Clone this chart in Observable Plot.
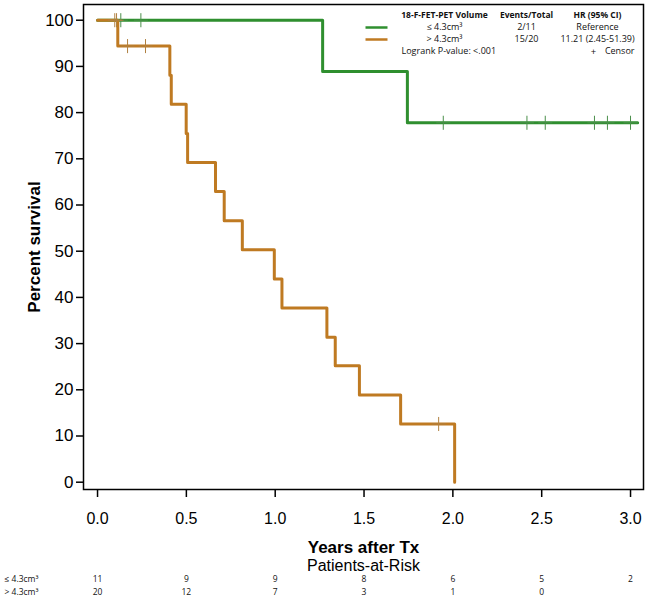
<!DOCTYPE html>
<html><head><meta charset="utf-8">
<script src="https://cdn.jsdelivr.net/npm/d3@7"></script>
<script src="https://cdn.jsdelivr.net/npm/@observablehq/plot@0.6"></script>
<style>
body{margin:0;background:#fff;}
#chart{width:649px;}
#chart svg{display:block;}
</style></head><body><div id="chart"></div>
<script>
// ---- data ----
const groups = ["≤ 4.3cm³", "> 4.3cm³"];
const groupColors = ["#2f8f2f", "#bf7a22"];
const lowTimes = [0, 1.267, 1.744, 3.04];
const lowSurv = [100, 88.9, 77.8, 77.8];
const highTimes = [0, 0.114, 0.407, 0.415, 0.499, 0.507, 0.664, 0.713, 0.815, 0.995, 1.038, 1.291, 1.338, 1.474, 1.706, 2.01];
const highSurv = [100, 94.4, 88.1, 81.8, 75.5, 69.2, 62.9, 56.6, 50.3, 44.0, 37.7, 31.4, 25.2, 18.9, 12.6, 0];
const lowCensor = [0.131, 0.244, 1.946, 2.417, 2.52, 2.797, 2.87, 3.0];
const highCensor = [0.097, 0.107, 0.169, 0.27, 1.92];
const riskTimes = [0, 0.5, 1.0, 1.5, 2.0, 2.5, 3.0];
const lowRisk = [11, 9, 9, 8, 6, 5, 2];
const highRisk = [20, 12, 7, 3, 1, 0];
const yTicks = [0, 10, 20, 30, 40, 50, 60, 70, 80, 90, 100];
const xTicks = [0, 0.5, 1.0, 1.5, 2.0, 2.5, 3.0];
const legendHeader = ["18-F-FET-PET Volume", "Events/Total", "HR (95% CI)"];
const legendEvents = ["2/11", "15/20"];
const legendHR = ["Reference", "11.21 (2.45-51.39)"];
const logrankText = "Logrank P-value: <.001";
const censorText = "Censor";

// ---- derived tables ----
const curve = (times, surv, g) => times.map((t, i) => ({time: t, surv: surv[i], group: g}));
const lowData = curve(lowTimes, lowSurv, groups[0]);
const highData = curve(highTimes, highSurv, groups[1]);
const survAt = (times, surv, t) => { let s = surv[0]; times.forEach((tt, i) => { if (tt <= t) s = surv[i]; }); return s; };
const lowCens = lowCensor.map(t => ({time: t, surv: survAt(lowTimes, lowSurv, t)}));
const highCens = highCensor.map(t => ({time: t, surv: survAt(highTimes, highSurv, t)}));
const lowRows = lowRisk.map((n, i) => ({time: riskTimes[i], n}));
const highRows = highRisk.map((n, i) => ({time: riskTimes[i], n}));

const xDomain = [-0.079, 3.073];
const FONT = "Liberation Sans, Arial, sans-serif";
const SMALL = "Open Sans, Noto Sans, sans-serif";
const swatch = {draw(ctx) { ctx.moveTo(-11, 0); ctx.lineTo(11, 0); }};

const legendMarks = [];
const L = (text, dx, dy, opts = {}) => legendMarks.push(Plot.text([text], {text: d => d, frameAnchor: "top-left", dx, dy, textAnchor: "middle", lineAnchor: "middle", fontSize: 9, fontFamily: SMALL, fill: "#111", ...opts}));
L(legendHeader[0], 361, 11, {fontWeight: "bold", fontSize: 8.5});
L(legendHeader[1], 443, 11, {fontWeight: "bold", fontSize: 8.5});
L(legendHeader[2], 514, 11, {fontWeight: "bold", fontSize: 8.5});
groups.forEach((g, i) => {
  const dy = 23 + 12 * i;
  legendMarks.push(Plot.dot([g], {frameAnchor: "top-left", dx: 293, dy, symbol: swatch, stroke: groupColors[i], strokeWidth: 2.5, fill: "none"}));
  L(g, 361, dy);
  L(legendEvents[i], 443, dy);
  L(legendHR[i], 514, dy);
});
L(logrankText, 318, 47, {textAnchor: "start"});
L("+", 510, 47, {fontSize: 9.5});
L(censorText, 551, 47, {textAnchor: "end"});

const main = Plot.plot({
  width: 649, height: 556,
  marginLeft: 83, marginRight: 6, marginTop: 4, marginBottom: 67,
  style: {fontFamily: FONT, fontSize: "15px", background: "white"},
  x: {domain: xDomain},
  y: {domain: [-1.58, 103.4]},
  marks: [
    Plot.axisY({ticks: yTicks, tickSize: 7, tickPadding: 3, fontSize: 17, label: null, stroke: "black", strokeWidth: 1.5}),
    Plot.axisX({ticks: xTicks, tickFormat: d3.format(".1f"), tickSize: 8, tickPadding: 15, fontSize: 16, label: null, stroke: "black", strokeWidth: 1.5}),
    Plot.line(lowData, {x: "time", y: "surv", curve: "step-after", stroke: groupColors[0], strokeWidth: 3}),
    Plot.line(highData, {x: "time", y: "surv", curve: "step-after", stroke: groupColors[1], strokeWidth: 3}),
    Plot.dot(lowCens, {x: "time", y: "surv", symbol: "plus", r: 4.6, stroke: "#4a8f4a", strokeWidth: 1}),
    Plot.dot(highCens, {x: "time", y: "surv", symbol: "plus", r: 4.6, stroke: "#b08040", strokeWidth: 1}),
    Plot.frame({stroke: "black", strokeWidth: 1.5}),
    ...legendMarks,
    Plot.text(["Years after Tx"], {text: d => d, frameAnchor: "bottom", dy: 58, lineAnchor: "middle", fontWeight: "bold", fontSize: 17, fill: "black"}),
    Plot.text(["Percent survival"], {text: d => d, frameAnchor: "left", dx: -49, rotate: -90, textAnchor: "middle", lineAnchor: "middle", fontWeight: "bold", fontSize: 17, fill: "black"})
  ]
});

const risk = Plot.plot({
  width: 649, height: 44,
  marginLeft: 83, marginRight: 6, marginTop: 0, marginBottom: 0,
  style: {fontFamily: SMALL, fontSize: "8px", background: "white"},
  x: {domain: xDomain, axis: null},
  marks: [
    Plot.text(["Patients-at-Risk"], {text: d => d, frameAnchor: "top", dy: 9, lineAnchor: "middle", fontSize: 16, fontFamily: FONT, fill: "black"}),
    Plot.text([groups[0]], {text: d => d, frameAnchor: "top-left", dx: -79, dy: 23, textAnchor: "start", lineAnchor: "middle", fontSize: 8.5, fill: "#111"}),
    Plot.text([groups[1]], {text: d => d, frameAnchor: "top-left", dx: -79, dy: 36, textAnchor: "start", lineAnchor: "middle", fontSize: 8.5, fill: "#111"}),
    Plot.text(lowRows, {x: "time", text: "n", frameAnchor: "top", dy: 23, lineAnchor: "middle", fontSize: 8.5, fill: "#111"}),
    Plot.text(highRows, {x: "time", text: "n", frameAnchor: "top", dy: 36, lineAnchor: "middle", fontSize: 8.5, fill: "#111"})
  ]
});

document.getElementById("chart").append(main, risk);
</script></body></html>
